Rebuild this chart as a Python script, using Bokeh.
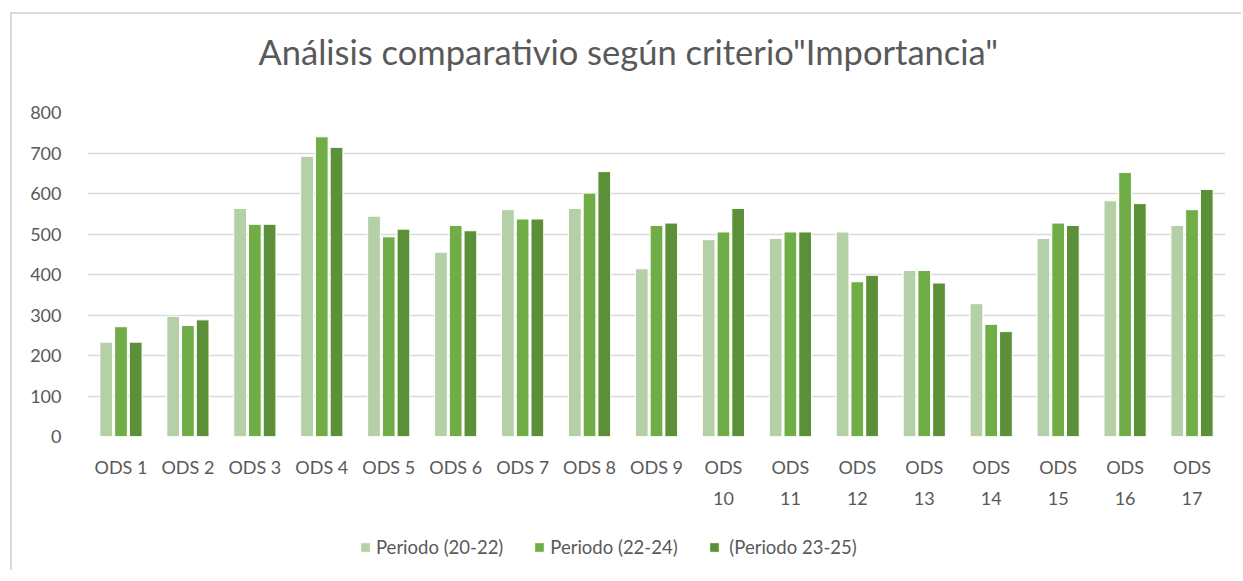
from bokeh.plotting import figure
from bokeh.layouts import column
from bokeh.models import (ColumnDataSource, Range1d, FixedTicker, Legend, LegendItem,
                          CategoricalAxis, CustomJSTickFormatter, Label)
from bokeh.transform import dodge
from bokeh.embed import file_html
from bokeh.resources import INLINE

categories = ["ODS 1", "ODS 2", "ODS 3", "ODS 4", "ODS 5", "ODS 6", "ODS 7", "ODS 8", "ODS 9",
              "ODS 10", "ODS 11", "ODS 12", "ODS 13", "ODS 14", "ODS 15", "ODS 16", "ODS 17"]
periodo_20_22 = [233, 297, 563, 692, 544, 455, 560, 563, 414, 486, 489, 505, 410, 328, 489, 582, 521]
periodo_22_24 = [271, 274, 524, 740, 493, 521, 537, 601, 521, 505, 505, 382, 410, 277, 527, 652, 560]
periodo_23_25 = [233, 288, 524, 714, 512, 508, 537, 654, 527, 563, 505, 398, 379, 259, 521, 575, 610]
series_names = ["Periodo (20-22)", "Periodo (22-24)", " (Periodo 23-25)"]
y_ticks = [0, 100, 200, 300, 400, 500, 600, 700, 800]
title_text = 'Análisis comparativio según criterio"Importancia"'

colors = ["#B5CFA6", "#70AD47", "#5B8F38"]
FONT = "Lato"
GREY = "#595959"
W, LB, RB = 1229, 75, 16
FW = W - LB - RB


def strip(height):
    f = figure(width=W, height=height, x_range=Range1d(0, FW), y_range=Range1d(0, height),
               x_axis_type=None, y_axis_type=None, output_backend="svg", toolbar_location=None,
               min_border_left=LB, min_border_right=RB, min_border_top=0, min_border_bottom=0)
    f.outline_line_color = None
    f.grid.grid_line_color = None
    return f


# title strip
tf = strip(88)
tf.add_layout(Label(x=171, y=51, text=title_text, text_font=FONT, text_font_size="34.5px",
                    text_color=GREY, text_align="left", text_baseline="alphabetic"))

# main chart
src = ColumnDataSource(dict(cat=categories, a=periodo_20_22, b=periodo_22_24, c=periodo_23_25))

p = figure(x_range=categories, y_range=Range1d(0, 800), width=W, height=413,
           output_backend="svg", toolbar_location=None,
           min_border_left=LB, min_border_right=RB, min_border_top=10, min_border_bottom=79)
p.outline_line_color = None

for col, off, color in zip(["a", "b", "c"], [-0.22, 0.0, 0.22], colors):
    p.vbar(x=dodge("cat", off, range=p.x_range), top=col, width=0.19, source=src,
           fill_color=color, line_color="white", line_width=1)

p.xgrid.grid_line_color = None
p.ygrid.grid_line_color = "#D9D9D9"
p.ygrid.grid_line_width = 1.3

p.yaxis.ticker = FixedTicker(ticks=y_ticks)
p.yaxis.axis_line_color = None
p.yaxis.major_tick_line_color = None
p.yaxis.minor_tick_line_color = None
p.yaxis.major_label_standoff = 20
p.yaxis.major_label_text_font = FONT
p.yaxis.major_label_text_font_size = "18px"
p.yaxis.major_label_text_color = GREY

# first line of the category labels ("ODS 1" ... "ODS 9", "ODS" for two-digit ones)
p.xaxis.formatter = CustomJSTickFormatter(code="return tick.length > 5 ? tick.split(' ')[0] : tick;")
# second line for the wrapped two-digit labels
x2 = CategoricalAxis(formatter=CustomJSTickFormatter(
    code="return tick.length > 5 ? tick.split(' ')[1] : '';"))
p.add_layout(x2, "below")

for ax, so in ((p.xaxis[0], 13), (x2, 5)):
    ax.axis_line_color = None
    ax.major_tick_line_color = None
    ax.minor_tick_line_color = None
    ax.major_label_standoff = so
    ax.major_label_text_font = FONT
    ax.major_label_text_font_size = "18px"
    ax.major_label_text_color = GREY

# legend strip below the chart (swatch renderers sit outside the visible range)
lf = strip(55)
swatches = [lf.vbar(x=[-1000], top=[1], width=1, fill_color=c, line_color="white", line_width=1)
            for c in colors]
legend = Legend(items=[LegendItem(label=n, renderers=[r]) for n, r in zip(series_names, swatches)],
                orientation="horizontal", location=(272, 12))
legend.border_line_color = None
legend.background_fill_alpha = 0
legend.padding = 0
legend.margin = 0
legend.spacing = 30
legend.glyph_width = 12
legend.glyph_height = 12
legend.label_height = 20
legend.label_standoff = 5
legend.label_text_font = FONT
legend.label_text_font_size = "18.5px"
legend.label_text_color = GREY
lf.add_layout(legend)

page = column(tf, p, lf, spacing=0)
page.styles = {"border-left": "2px solid #D9D9D9", "border-top": "2px solid #D9D9D9",
               "margin-left": "10px", "margin-top": "12px"}

open("out.html", "w").write(file_html(page, INLINE))
